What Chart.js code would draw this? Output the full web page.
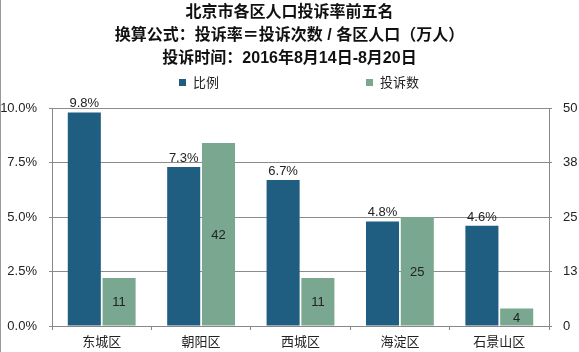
<!DOCTYPE html>
<html lang="zh-CN">
<head>
    <meta charset="UTF-8">
    <title>北京市各区人口投诉率前五名</title>
    <style>
        body {
            margin: 0;
            background-color: #ffffff;
        }
        .caixa {
            width: 579px;
            height: 352px;
        }
    </style>
    <script src="https://cdn.jsdelivr.net/npm/chart.js"></script>
</head>
<body>
    <div class="caixa">
        <canvas id="grafico" width="579" height="352"></canvas>
    </div>
    <script>
        // dados
        const distritos = ['东城区', '朝阳区', '西城区', '海淀区', '石景山区'];
        const proporcao = [9.8, 7.3, 6.7, 4.8, 4.6];      // %
        const reclamacoes = [11, 42, 11, 25, 4];         // 投诉数
        const ticksEsquerda = [0, 2.5, 5, 7.5, 10];
        const ticksDireita = [0, 12.5, 25, 37.5, 50];
        const titulo = ['北京市各区人口投诉率前五名', '换算公式：投诉率＝投诉次数 / 各区人口（万人）', '投诉时间：2016年8月14日-8月20日'];

        const azul = '#1f5e80';
        const verde = '#79a78f';
        const fonte = '"Liberation Sans", "Noto Sans CJK SC", sans-serif';

        // rótulos sobre/dentro das barras + legenda + borda esquerda
        const extras = {
            id: 'extras',
            afterDatasetsDraw(chart) {
                const ctx = chart.ctx;
                ctx.save();
                ctx.font = '13px ' + fonte;
                ctx.fillStyle = '#222';
                ctx.textAlign = 'center';
                chart.getDatasetMeta(0).data.forEach((bar, i) => {
                    ctx.textBaseline = 'bottom';
                    ctx.fillText(proporcao[i].toFixed(1) + '%', bar.x, bar.y - 2);
                });
                chart.getDatasetMeta(1).data.forEach((bar, i) => {
                    ctx.textBaseline = 'middle';
                    ctx.fillText(String(reclamacoes[i]), bar.x, (bar.y + bar.base) / 2 + 1);
                });
                ctx.restore();
            },
            afterDraw(chart) {
                const ctx = chart.ctx;
                ctx.save();
                // legenda espaçada como no original
                const itens = [{x: 179, ds: 0}, {x: 366, ds: 1}];
                ctx.font = '13px ' + fonte;
                ctx.textBaseline = 'middle';
                ctx.textAlign = 'left';
                itens.forEach(it => {
                    const ds = chart.data.datasets[it.ds];
                    ctx.fillStyle = ds.backgroundColor;
                    ctx.fillRect(it.x, 79, 7, 7);
                    ctx.fillStyle = '#222';
                    ctx.fillText(ds.label, it.x + 14, 83);
                });
                // borda esquerda da imagem
                ctx.strokeStyle = '#999';
                ctx.lineWidth = 1;
                ctx.beginPath();
                ctx.moveTo(0.5, 0);
                ctx.lineTo(0.5, 352);
                ctx.stroke();
                ctx.restore();
            }
        };

        new Chart(document.getElementById('grafico'), {
            type: 'bar',
            data: {
                labels: distritos,
                datasets: [{
                    label: '比例',
                    data: proporcao,
                    backgroundColor: azul,
                    yAxisID: 'y'
                }, {
                    label: '投诉数',
                    data: reclamacoes,
                    backgroundColor: verde,
                    yAxisID: 'y1'
                }]
            },
            options: {
                responsive: false,
                animation: false,
                categoryPercentage: 0.7,
                barPercentage: 0.95,
                layout: { padding: 0 },
                plugins: {
                    legend: { display: false },
                    tooltip: { enabled: false },
                    title: {
                        display: true,
                        text: titulo,
                        color: '#111',
                        font: { family: fonte, size: 16, weight: 'bold', lineHeight: 1.42 },
                        padding: { top: 1.6, bottom: 38.3 }
                    }
                },
                scales: {
                    x: {
                        grid: { display: true, drawOnChartArea: false, offset: true, tickLength: 4, color: '#888' },
                        border: { color: '#888' },
                        ticks: { color: '#222', padding: 5, font: { family: fonte, size: 13 } },
                        afterFit(scale) { scale.height = 26; }
                    },
                    y: {
                        position: 'left',
                        min: 0,
                        max: 10,
                        afterBuildTicks(scale) { scale.ticks = ticksEsquerda.map(v => ({ value: v })); },
                        grid: { color: '#8c8c8c', tickLength: 3 },
                        border: { color: '#888' },
                        ticks: {
                            color: '#222',
                            padding: 12,
                            font: { family: fonte, size: 13 },
                            callback: v => v.toFixed(1) + '%'
                        },
                        afterFit(scale) { scale.width = 52; }
                    },
                    y1: {
                        position: 'right',
                        min: 0,
                        max: 50,
                        afterBuildTicks(scale) { scale.ticks = ticksDireita.map(v => ({ value: v })); },
                        grid: { drawOnChartArea: false, tickLength: 3, color: '#888' },
                        border: { color: '#888' },
                        ticks: {
                            color: '#222',
                            padding: 11,
                            font: { family: fonte, size: 13 },
                            callback: v => String(Math.round(v))
                        },
                        afterFit(scale) { scale.width = 30; }
                    }
                }
            },
            plugins: [extras]
        });
    </script>
</body>
</html>
